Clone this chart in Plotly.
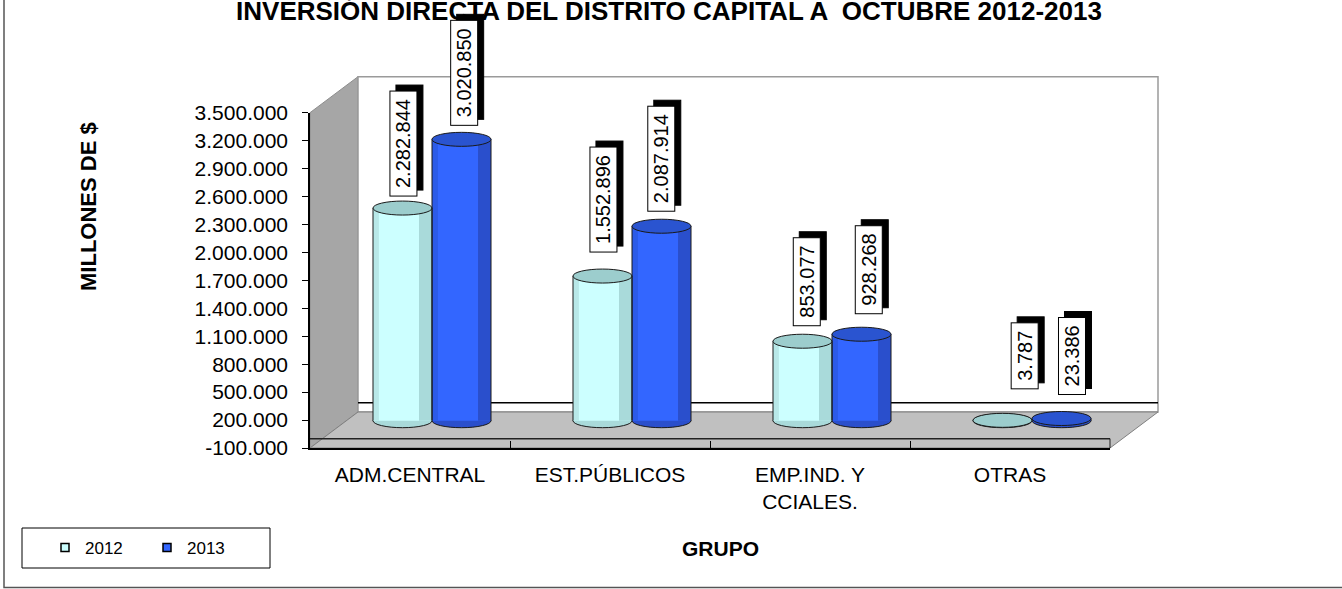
import plotly.graph_objects as go

# ---------------- data ----------------
categories = ["ADM.CENTRAL", "EST.PÚBLICOS", "EMP.IND. Y<br>CCIALES.", "OTRAS"]
series_names = ["2012", "2013"]
values_2012 = [2282844, 1552896, 853077, 3787]
values_2013 = [3020850, 2087914, 928268, 23386]
y_tick_values = list(range(-100000, 3500001, 300000))
y_tick_labels = [f"{v:,}".replace(",", ".") for v in y_tick_values]
title_text = "INVERSIÓN DIRECTA DEL DISTRITO CAPITAL A  OCTUBRE 2012-2013"
y_title = "MILLONES DE $"
x_title = "GRUPO"

# ---------------- style / geometry ----------------
W, H = 1342, 589
FONT = "Liberation Sans, Arial, sans-serif"
FX0, FX1 = 310, 1110          # front plane x extent (px)
FY_TOP, FY_BOT = 112.7, 448   # front plane y for axis max / min (px)
Y_MIN, Y_MAX = -100000, 3500000
BACK_DX, BACK_DY = 48, 36     # depth of back wall (px)
MID_DX, MID_DY = 22, 18       # depth of bar row (px)
BAR_W = 0.295
ELL_H = 7

body_colors = ["#CCFFFF", "#3366FF"]
top_colors = ["#9CCDCD", "#2A54D0"]
strip_styles = [
    [(0.0, 0.10, "#B8E8E8"), (0.78, 0.22, "#A9DADA")],
    [(0.0, 0.10, "#2C5BE8"), (0.78, 0.22, "#2A4FCC")],
]
label_xshift = [[1, 3], [1, 0], [4, 7], [22, 10]]
label_yshift = [[11, 13], [23, 14], [15, 20], [31, 23]]


def px(x):
    return x / W


def py(y):
    return 1 - y / H


def val_px(v, dy=0):
    return FY_BOT - (v - Y_MIN) / (Y_MAX - Y_MIN) * (FY_BOT - FY_TOP) - dy


fig = go.Figure()

series_values = [values_2012, values_2013]
offsets = [-BAR_W, 0.0]

# bars (cylinder bodies) on the mid-depth axes
for s, vals in enumerate(series_values):
    fig.add_trace(go.Bar(
        x=categories, y=vals, xaxis="x2", yaxis="y2",
        width=BAR_W, offset=offsets[s],
        marker=dict(color=body_colors[s], line=dict(width=0)),
        name=series_names[s], showlegend=False, hoverinfo="x+y",
    ))
    for (f0, fw, col) in strip_styles[s]:
        fig.add_trace(go.Bar(
            x=categories, y=vals, xaxis="x2", yaxis="y2",
            width=BAR_W * fw, offset=offsets[s] + BAR_W * f0,
            marker=dict(color=col, line=dict(width=0)),
            showlegend=False, hoverinfo="skip",
        ))

# legend proxies
for s in range(2):
    fig.add_trace(go.Scatter(
        x=[None], y=[None], mode="markers", name=series_names[s],
        marker=dict(symbol="square", size=8, color=body_colors[s],
                    line=dict(color="black", width=1.5)),
    ))

shapes = []
# outer frame (left and bottom visible)
shapes.append(dict(type="rect", xref="paper", yref="paper",
                   x0=px(4), x1=px(W + 20), y0=py(587.5), y1=py(-60),
                   line=dict(color="#555555", width=1.5), layer="below"))
# left side wall
shapes.append(dict(type="path", xref="paper", yref="paper",
                   path=(f"M{px(FX0)},{py(FY_BOT)} L{px(FX0)},{py(FY_TOP)} "
                         f"L{px(FX0 + BACK_DX)},{py(FY_TOP - BACK_DY)} "
                         f"L{px(FX0 + BACK_DX)},{py(FY_BOT - BACK_DY)} Z"),
                   fillcolor="#A6A6A6", line=dict(color="#8C8C8C", width=1),
                   layer="below"))
# back wall
shapes.append(dict(type="rect", xref="paper", yref="paper",
                   x0=px(FX0 + BACK_DX), x1=px(FX1 + BACK_DX),
                   y0=py(FY_BOT - BACK_DY), y1=py(FY_TOP - BACK_DY),
                   fillcolor="white", line=dict(color="#9A9A9A", width=1.5),
                   layer="below"))
# floor
shapes.append(dict(type="path", xref="paper", yref="paper",
                   path=(f"M{px(FX0)},{py(FY_BOT)} L{px(FX0 + BACK_DX)},{py(FY_BOT - BACK_DY)} "
                         f"L{px(FX1 + BACK_DX)},{py(FY_BOT - BACK_DY)} L{px(FX1)},{py(FY_BOT)} Z"),
                   fillcolor="#C0C0C0", line=dict(color="#7F7F7F", width=1),
                   layer="below"))
# zero lines (back wall, front face of floor)
zb = val_px(0, BACK_DY)
shapes.append(dict(type="line", xref="paper", yref="paper",
                   x0=px(FX0 + BACK_DX), x1=px(FX1 + BACK_DX), y0=py(zb), y1=py(zb),
                   line=dict(color="black", width=1.5), layer="below"))
zf = val_px(0)
shapes.append(dict(type="line", xref="paper", yref="paper",
                   x0=px(FX0), x1=px(FX1), y0=py(zf), y1=py(zf),
                   line=dict(color="#222222", width=1.5), layer="below"))
shapes.append(dict(type="line", xref="paper", yref="paper",
                   x0=px(FX1), x1=px(FX1), y0=py(zf), y1=py(FY_BOT),
                   line=dict(color="#222222", width=1), layer="below"))
# legend box
shapes.append(dict(type="rect", xref="paper", yref="paper",
                   x0=px(22), x1=px(270), y0=py(568), y1=py(528),
                   line=dict(color="black", width=1), fillcolor="white", layer="below"))

# cylinder ends and edges
for s, vals in enumerate(series_values):
    for i, v in enumerate(vals):
        x0 = i + offsets[s]
        x1 = x0 + BAR_W
        shapes.append(dict(type="circle", xref="x2", yref="y2", ysizemode="pixel",
                           yanchor=0, y0=-ELL_H, y1=ELL_H, x0=x0, x1=x1,
                           fillcolor=strip_styles[s][1][2], line=dict(color="#1A1A1A", width=1),
                           layer="below"))
        for xe in (x0, x1):
            shapes.append(dict(type="line", xref="x2", yref="y2", x0=xe, x1=xe,
                               y0=0, y1=v, line=dict(color="#1A1A1A", width=1),
                               layer="above"))
        shapes.append(dict(type="circle", xref="x2", yref="y2", ysizemode="pixel",
                           yanchor=v, y0=-ELL_H, y1=ELL_H, x0=x0, x1=x1,
                           fillcolor=top_colors[s], line=dict(color="#1A1A1A", width=1),
                           layer="above"))

# data labels (with black drop shadow)
annotations = []
for s, vals in enumerate(series_values):
    for i, v in enumerate(vals):
        txt = "\u00a0" + f"{v:,}".replace(",", ".") + "\u00a0"
        xc = i + offsets[s] + BAR_W / 2
        for shadow in (True, False):
            annotations.append(dict(
                x=xc, y=v, xref="x2", yref="y2", text=txt, textangle=-90,
                showarrow=False, xanchor="center", yanchor="bottom",
                xshift=label_xshift[i][s] + (6 if shadow else 0),
                yshift=label_yshift[i][s] + (6 if shadow else 0),
                font=dict(family=FONT, size=20, color="black"),
                bgcolor="black" if shadow else "white",
                bordercolor="black", borderwidth=1, borderpad=2,
            ))

annotations.append(dict(x=px(88), y=py(207), xref="paper", yref="paper",
                        text=f"<b>{y_title}</b>", textangle=-90, showarrow=False,
                        xanchor="center", yanchor="middle",
                        font=dict(family=FONT, size=22, color="black")))
annotations.append(dict(x=px(720), y=py(548), xref="paper", yref="paper",
                        text=f"<b>{x_title}</b>", showarrow=False,
                        xanchor="center", yanchor="middle",
                        font=dict(family=FONT, size=21, color="black")))

fig.update_layout(
    width=W, height=H,
    margin=dict(l=0, r=0, t=0, b=0, pad=0, autoexpand=False),
    paper_bgcolor="white", plot_bgcolor="rgba(0,0,0,0)",
    barmode="overlay",
    font=dict(family=FONT, color="black"),
    title=dict(text=f"<b>{title_text}</b>", x=669 / W, xanchor="center",
               y=1 - 10.5 / H, yanchor="middle", automargin=False,
               font=dict(family=FONT, size=26, color="black")),
    xaxis=dict(domain=[px(FX0), px(FX1)], anchor="y", type="category",
               categoryorder="array", categoryarray=categories,
               range=[-0.5, len(categories) - 0.5], automargin=False,
               showline=True, linecolor="black", linewidth=1.5,
               ticks="inside", tickson="boundaries", ticklen=7, tickcolor="black",
               showgrid=False, zeroline=False, ticklabelstandoff=7,
               tickfont=dict(family=FONT, size=21, color="black")),
    yaxis=dict(domain=[py(FY_BOT), py(FY_TOP)], anchor="x", range=[Y_MIN, Y_MAX],
               tickvals=y_tick_values, ticktext=y_tick_labels, automargin=False,
               showline=True, linecolor="black", linewidth=1.5,
               ticks="outside", ticklen=6, tickcolor="black",
               showgrid=False, zeroline=False, ticklabelstandoff=10,
               tickfont=dict(family=FONT, size=21, color="black")),
    xaxis2=dict(domain=[px(FX0 + MID_DX), px(FX1 + MID_DX)], anchor="y2",
                type="category", categoryorder="array", categoryarray=categories,
                range=[-0.5, len(categories) - 0.5], visible=False, automargin=False),
    yaxis2=dict(domain=[py(FY_BOT - MID_DY), py(FY_TOP - MID_DY)], anchor="x2",
                range=[Y_MIN, Y_MAX], visible=False, automargin=False),
    legend=dict(orientation="h", x=px(45), y=py(530), xanchor="left", yanchor="top",
                bgcolor="rgba(0,0,0,0)", borderwidth=0, entrywidth=57,
                font=dict(family=FONT, size=17, color="black")),
    shapes=shapes,
    annotations=annotations,
)

fig.write_html(
    "out.html",
    config={"displayModeBar": False},
    post_script="document.documentElement.style.margin='0';"
                "document.body.style.margin='0';document.body.style.padding='0';"
                "document.body.style.overflow='hidden';",
)
